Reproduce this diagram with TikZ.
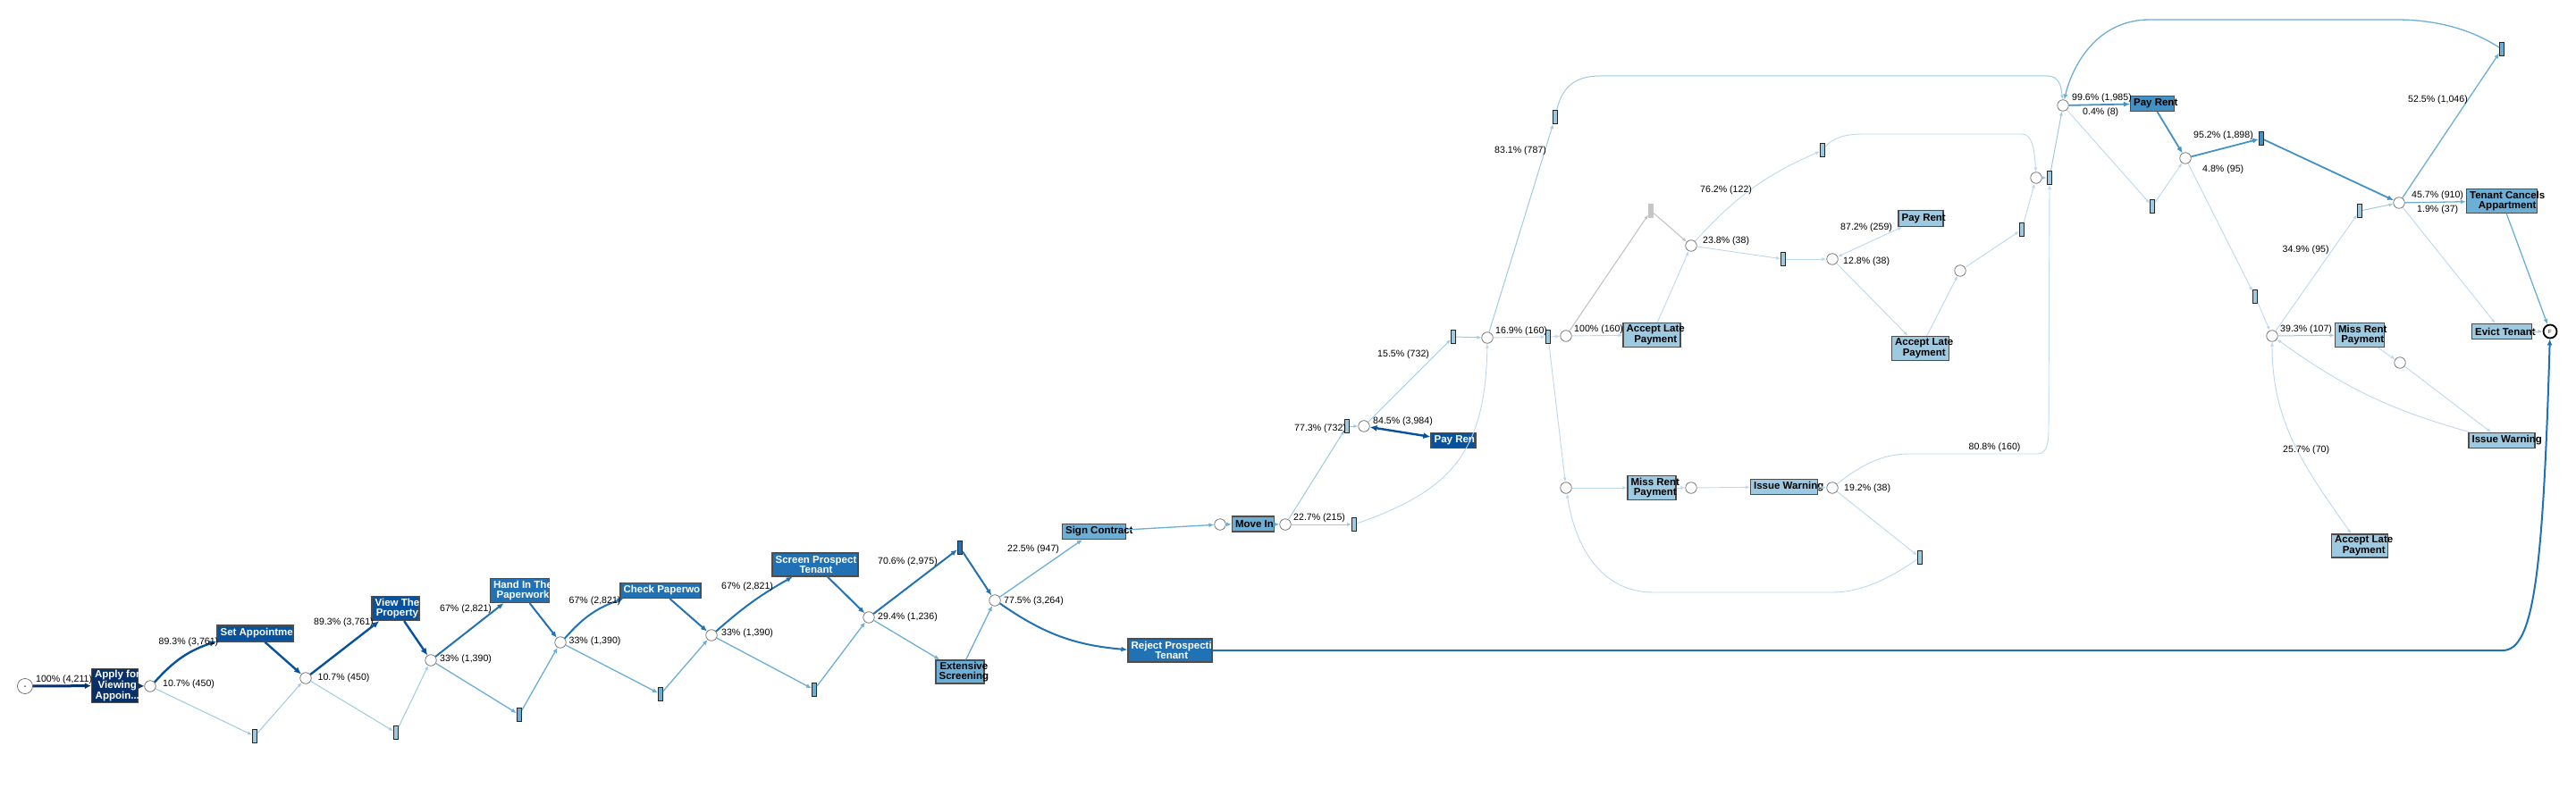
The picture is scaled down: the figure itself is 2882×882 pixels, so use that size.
\documentclass[tikz,border=0pt]{standalone}
\usepackage{fontspec}
\setmainfont{Liberation Sans}
\usetikzlibrary{arrows.meta}

\definecolor{c0}{HTML}{08306B}
\definecolor{c1}{HTML}{08519C}
\definecolor{c2}{HTML}{2171B5}
\definecolor{c3}{HTML}{4292C6}
\definecolor{c4}{HTML}{6BAED6}
\definecolor{c5}{HTML}{9ECAE1}
\definecolor{c6}{HTML}{BDD7EE}
\definecolor{frame}{HTML}{4D4D4D}

\newcommand{\lblfont}{\fontsize{10.6}{12}\selectfont}
\newcommand{\actfont}{\bfseries\fontsize{11.5}{11.7}\selectfont}

\tikzset{
  place/.style={circle, draw=gray!80!black, fill=white, line width=0.7pt, minimum size=12.5pt, inner sep=0pt},
  silent/.style={rectangle, draw=black!85, fill=c5, line width=1pt, minimum width=5pt, minimum height=15pt, inner sep=0pt},
  act/.style={rectangle, draw=frame, line width=1.2pt, inner sep=0pt},
  acttext/.style={anchor=west, align=center, inner sep=0pt, font=\actfont},
  lbl/.style={anchor=west, inner sep=0pt, font=\lblfont},
  e0/.style={draw=c0, line width=3pt, -{Latex[length=7pt,width=7pt]}},
  e1/.style={draw=c1, line width=2.4pt, -{Latex[length=8pt,width=7pt]}},
  e2/.style={draw=c2, line width=2pt, -{Latex[length=7pt,width=6pt]}},
  e3/.style={draw=c3, line width=1.8pt, -{Latex[length=7pt,width=6pt]}},
  e4/.style={draw=c4, line width=1.3pt, -{Latex[length=6pt,width=5pt]}},
  e5/.style={draw=c5, line width=1pt, -{Latex[length=5pt,width=4pt]}},
  e6/.style={draw=c6, line width=0.9pt, -{Latex[length=5pt,width=4pt]}},
  eg/.style={draw=gray!50, line width=1pt, -{Latex[length=5pt,width=4pt]}},
  both/.style={{Latex[length=5pt,width=4pt]}-{Latex[length=5pt,width=4pt]}},
}

\begin{document}
\begin{tikzpicture}[->,>={Latex[length=5pt,width=4pt]},x=1pt,y=-1pt]

  \useasboundingbox (0,0) rectangle (2882,882);

  % places
  \node[place, minimum size=17pt] (S) at (28,768) {};
  \fill[-, gray!80!black] (S) circle (1pt);
  \node[place] (p1) at (168,768) {};
  \node[place] (p2) at (342,759) {};
  \node[place] (p3) at (482,739) {};
  \node[place] (p4) at (627,719) {};
  \node[place] (p5) at (796,711) {};
  \node[place] (p6) at (972,691) {};
  \node[place] (p7) at (1113,672) {};
  \node[place] (p8) at (1365,587) {};
  \node[place] (p9) at (1438,587) {};
  \node[place] (p10) at (1526,477) {};
  \node[place] (p11) at (1664,378) {};
  \node[place] (p12) at (1752,376) {};
  \node[place] (p13) at (1752,546) {};
  \node[place] (p15) at (1892,275) {};
  \node[place] (p16) at (2050,290) {};
  \node[place] (p17) at (2193,303) {};
  \node[place] (p18) at (2278,199) {};
  \node[place] (p19) at (1892,546) {};
  \node[place] (p20) at (2050,546) {};
  \node[place] (p14) at (2308,118) {};
  \node[place] (p21) at (2445,177) {};
  \node[place] (p22) at (2684,227) {};
  \node[place] (p23) at (2542,376) {};
  \node[place] (p24) at (2685,406) {};
  \node[place, draw=black, line width=1.8pt, minimum size=15pt, font=\fontsize{6}{6}\selectfont] (F) at (2853,371) {F};

  % silent transitions
  \node[silent] (s1) at (285,824) {};
  \node[silent] (s2) at (443,820) {};
  \node[silent, fill=c4] (s3) at (581,800) {};
  \node[silent, fill=c4] (s4) at (739,777) {};
  \node[silent, fill=c4] (s5) at (911,772) {};
  \node[silent, fill=c2] (s6) at (1074,613) {};
  \node[silent] (s7) at (1515,587) {};
  \node[silent] (s8) at (1507,477) {};
  \node[silent] (s9) at (1626,377) {};
  \node[silent] (s10) at (1732,377) {};
  \node[silent] (s11) at (1740,131) {};
  \node[silent] (s12) at (2039,168) {};
  \node[silent, draw=gray!45, fill=gray!45] (sg) at (1847,236) {};
  \node[silent] (s13) at (1995,290) {};
  \node[silent] (s14) at (2262,257) {};
  \node[silent] (s15) at (2293,199) {};
  \node[silent] (s16) at (2148,624) {};
  \node[silent] (s17) at (2408,231) {};
  \node[silent, fill=c3] (s18) at (2530,155) {};
  \node[silent, fill=c4] (s19) at (2799,55) {};
  \node[silent] (s20) at (2640,236) {};
  \node[silent] (s21) at (2523,332) {};

  % activities
  \node[act, fill=c0, minimum width=52pt, minimum height=38pt] (apply) at (128.5,767.5) {};
  \node[acttext, white] (apply-t) at ([xshift=4pt]apply.west) {Apply for\\Viewing\\Appoin...};
  \node[act, fill=c1, minimum width=85pt, minimum height=18pt] (setapp) at (285.5,709) {};
  \node[acttext, white] (setapp-t) at ([xshift=4pt]setapp.west) {Set Appointme};
  \node[act, fill=c1, minimum width=53pt, minimum height=27pt] (view) at (442.5,681) {};
  \node[acttext, white] (view-t) at ([xshift=4pt]view.west) {View The\\Property};
  \node[act, fill=c2, minimum width=66pt, minimum height=27pt] (hand) at (581.5,661) {};
  \node[acttext, white] (hand-t) at ([xshift=4pt]hand.west) {Hand In The\\Paperwork};
  \node[act, fill=c2, minimum width=90pt, minimum height=17pt] (check) at (739,661) {};
  \node[acttext, white] (check-t) at ([xshift=4pt]check.west) {Check Paperwo};
  \node[act, fill=c2, minimum width=96pt, minimum height=26pt] (screen) at (912,632) {};
  \node[acttext, white] (screen-t) at ([xshift=4pt]screen.west) {Screen Prospect\\Tenant};
  \node[act, fill=c4, minimum width=54pt, minimum height=26pt] (extens) at (1074,752) {};
  \node[acttext] (extens-t) at ([xshift=4pt]extens.west) {Extensive\\Screening};
  \node[act, fill=c2, minimum width=94pt, minimum height=26pt] (reject) at (1309,728) {};
  \node[acttext, white] (reject-t) at ([xshift=4pt]reject.west) {Reject Prospecti\\Tenant};
  \node[act, fill=c4, minimum width=71pt, minimum height=17pt] (sign) at (1224,595) {};
  \node[acttext] (sign-t) at ([xshift=4pt]sign.west) {Sign Contract};
  \node[act, fill=c4, minimum width=47pt, minimum height=17pt] (movein) at (1402,586.5) {};
  \node[acttext] (movein-t) at ([xshift=4pt]movein.west) {Move In};
  \node[act, fill=c1, minimum width=50pt, minimum height=17pt] (payA) at (1626,493) {};
  \node[acttext, white] (payA-t) at ([xshift=4pt]payA.west) {Pay Ren};
  \node[act, fill=c5, minimum width=64pt, minimum height=27pt] (late1) at (1848,375) {};
  \node[acttext] (late1-t) at ([xshift=4pt]late1.west) {Accept Late\\Payment};
  \node[act, fill=c5, minimum width=50pt, minimum height=18pt] (payB) at (2149,244.5) {};
  \node[acttext] (payB-t) at ([xshift=4pt]payB.west) {Pay Rent};
  \node[act, fill=c5, minimum width=64pt, minimum height=27pt] (late2) at (2148.5,390) {};
  \node[acttext] (late2-t) at ([xshift=4pt]late2.west) {Accept Late\\Payment};
  \node[act, fill=c5, minimum width=54pt, minimum height=27pt] (miss1) at (1848,546) {};
  \node[acttext] (miss1-t) at ([xshift=4pt]miss1.west) {Miss Rent\\Payment};
  \node[act, fill=c5, minimum width=75pt, minimum height=17pt] (warn1) at (1996,545) {};
  \node[acttext] (warn1-t) at ([xshift=4pt]warn1.west) {Issue Warning};
  \node[act, fill=c3, minimum width=49pt, minimum height=17pt] (payC) at (2408,116) {};
  \node[acttext] (payC-t) at ([xshift=4pt]payC.west) {Pay Rent};
  \node[act, fill=c4, minimum width=79pt, minimum height=27pt] (cancel) at (2799,225) {};
  \node[acttext] (cancel-t) at ([xshift=4pt]cancel.west) {Tenant Cancels\\Appartment};
  \node[act, fill=c5, minimum width=55pt, minimum height=27pt] (miss2) at (2640,375) {};
  \node[acttext] (miss2-t) at ([xshift=4pt]miss2.west) {Miss Rent\\Payment};
  \node[act, fill=c5, minimum width=67pt, minimum height=17pt] (evict) at (2799,371) {};
  \node[acttext] (evict-t) at ([xshift=4pt]evict.west) {Evict Tenant};
  \node[act, fill=c5, minimum width=74pt, minimum height=17pt] (warn2) at (2799,493) {};
  \node[acttext] (warn2-t) at ([xshift=4pt]warn2.west) {Issue Warning};
  \node[act, fill=c5, minimum width=63pt, minimum height=26pt] (late3) at (2640,611) {};
  \node[acttext] (late3-t) at ([xshift=4pt]late3.west) {Accept Late\\Payment};

  % arcs
  \path (S) edge[e0] (apply)
        (apply) edge[e0] (p1)
        (p1) edge[e1, bend left=15] (setapp)
        (p1) edge[e5] (s1)
        (s1) edge[e5] (p2)
        (setapp) edge[e1] (p2)
        (p2) edge[e1] (view)
        (p2) edge[e5] (s2)
        (s2) edge[e5] (p3)
        (view) edge[e1] (p3)
        (p3) edge[e2] (hand)
        (p3) edge[e4] (s3)
        (s3) edge[e4] (p4)
        (hand) edge[e2] (p4)
        (p4) edge[e2, bend left=15] (check)
        (p4) edge[e4] (s4)
        (s4) edge[e4] (p5)
        (check) edge[e2] (p5)
        (p5) edge[e2, bend left=6] (screen)
        (p5) edge[e4] (s5)
        (s5) edge[e4] (p6)
        (screen) edge[e2] (p6)
        (p6) edge[e2] (s6)
        (p6) edge[e4] (extens)
        (s6) edge[e2] (p7)
        (extens) edge[e4] (p7)
        (p7) edge[e4] (sign)
        (p7) edge[e2, bend right=15] (reject)
        (sign) edge[e4] (p8)
        (p8) edge[e4] (movein)
        (movein) edge[e4] (p9)
        (p9) edge[e5] (s8)
        (p9) edge[e5] (s7)
        (s8) edge[e5] (p10)
        (p10) edge[e1, {Latex[length=8pt,width=7pt]}-{Latex[length=8pt,width=7pt]}] (payA)
        (p10) edge[e5] (s9)
        (s9) edge[e5] (p11)
        (p11) edge[e5] (s11)
        (p11) edge[e6] (s10)
        (s10) edge[e6] (p12)
        (s10) edge[e6] (p13)
        (p12) edge[e6] (late1)
        (p12) edge[eg] (sg)
        (sg) edge[eg] (p15)
        (late1) edge[e6] (p15)
        (p15) edge[e6, bend left=12] (s12)
        (p15) edge[e6] (s13)
        (s13) edge[e6] (p16)
        (p16) edge[e6, both] (payB)
        (p16) edge[e6] (late2)
        (late2) edge[e6] (p17)
        (p17) edge[e6] (s14)
        (s14) edge[e6] (p18)
        (p18) edge[e5] (s15)
        (s15) edge[e5] (p14)
        (p13) edge[e6] (miss1)
        (miss1) edge[e6] (p19)
        (p19) edge[e6] (warn1)
        (warn1) edge[e6] (p20)
        (p20) edge[e6] (s16)
        (p14) edge[e3] (payC)
        (p14) edge[e6] (s17)
        (s17) edge[e6] (p21)
        (payC) edge[e3] (p21)
        (p21) edge[e3] (s18)
        (p21) edge[e6] (s21)
        (s18) edge[e3] (p22)
        (p22) edge[e4] (cancel)
        (p22) edge[e4] (s19)
        (p22) edge[e6] (evict)
        (cancel) edge[e4] (F)
        (evict) edge[e5] (F)
        (s20) edge[e5] (p22)
        (p23) edge[e6] (s20)
        (s21) edge[e6] (p23)
        (p23) edge[e5] (miss2)
        (miss2) edge[e6] (p24)
        (p24) edge[e6] (warn2)
        (warn2) edge[e6, bend left=10] (p23)
        (p23) edge[e6, both, out=-90, in=125] (late3);

  \draw[e2] (reject) -- (2800,728) .. controls (2835,728) and (2845,640) .. (F);
  \draw[e6] (s7) .. controls (1620,550) and (1662,510) .. (p11);
  \draw[e5] (s11) .. controls (1748,95) and (1765,85) .. (1790,85) -- (2290,85) .. controls (2303,85) and (2306,95) .. (p14);
  \draw[e6] (s12) .. controls (2050,155) and (2062,150) .. (2085,150) -- (2262,150) .. controls (2273,150) and (2276,165) .. (p18);
  \draw[e6] (p20) .. controls (2080,522) and (2105,508) .. (2135,508) -- (2280,508) .. controls (2290,508) and (2292,495) .. (2292,480) -- (s15);
  \draw[e6] (s16) .. controls (2110,650) and (2080,663) .. (2050,663) -- (1850,663) .. controls (1790,663) and (1762,610) .. (p13);
  \draw[e4] (s19) .. controls (2760,30) and (2720,22) .. (2680,22) -- (2405,22) .. controls (2345,22) and (2318,75) .. (p14);

  % arc labels
  \node[lbl] (l1) at (40,761) {100\% (4,211)};
  \node[lbl] (l2) at (182,766) {10.7\% (450)};
  \node[lbl] (l3) at (177.5,719) {89.3\% (3,761)};
  \node[lbl] (l4) at (355.5,759) {10.7\% (450)};
  \node[lbl] (l5) at (351,697) {89.3\% (3,761)};
  \node[lbl] (l6) at (492,738) {33\% (1,390)};
  \node[lbl] (l7) at (492,682) {67\% (2,821)};
  \node[lbl] (l8) at (636.5,717.5) {33\% (1,390)};
  \node[lbl] (l9) at (636.5,673) {67\% (2,821)};
  \node[lbl] (l10) at (807,709) {33\% (1,390)};
  \node[lbl] (l11) at (807,657) {67\% (2,821)};
  \node[lbl] (l12) at (982,691) {29.4\% (1,236)};
  \node[lbl] (l13) at (982,629) {70.6\% (2,975)};
  \node[lbl] (l14) at (1123,673) {77.5\% (3,264)};
  \node[lbl] (l15) at (1127,615) {22.5\% (947)};
  \node[lbl] (l16) at (1447,580) {22.7\% (215)};
  \node[lbl] (l17) at (1448,480) {77.3\% (732)};
  \node[lbl] (l18) at (1536,472) {84.5\% (3,984)};
  \node[lbl] (l19) at (1541,397) {15.5\% (732)};
  \node[lbl] (l20) at (1673,371) {16.9\% (160)};
  \node[lbl] (l21) at (1672,169) {83.1\% (787)};
  \node[lbl] (l22) at (1761,368.5) {100\% (160)};
  \node[lbl] (l23) at (1902,213) {76.2\% (122)};
  \node[lbl] (l24) at (1905,270) {23.8\% (38)};
  \node[lbl] (l25) at (2059,255) {87.2\% (259)};
  \node[lbl] (l26) at (2062,293) {12.8\% (38)};
  \node[lbl] (l27) at (2063,547) {19.2\% (38)};
  \node[lbl] (l28) at (2202.5,501) {80.8\% (160)};
  \node[lbl] (l29) at (2318,110) {99.6\% (1,985)};
  \node[lbl] (l30) at (2330,126) {0.4\% (8)};
  \node[lbl] (l31) at (2454,152) {95.2\% (1,898)};
  \node[lbl] (l32) at (2464,190) {4.8\% (95)};
  \node[lbl] (l33) at (2694,112) {52.5\% (1,046)};
  \node[lbl] (l34) at (2698,219) {45.7\% (910)};
  \node[lbl] (l35) at (2704,235) {1.9\% (37)};
  \node[lbl] (l36) at (2553.5,280) {34.9\% (95)};
  \node[lbl] (l37) at (2551,369) {39.3\% (107)};
  \node[lbl] (l38) at (2554,504) {25.7\% (70)};

\end{tikzpicture}
\end{document}
